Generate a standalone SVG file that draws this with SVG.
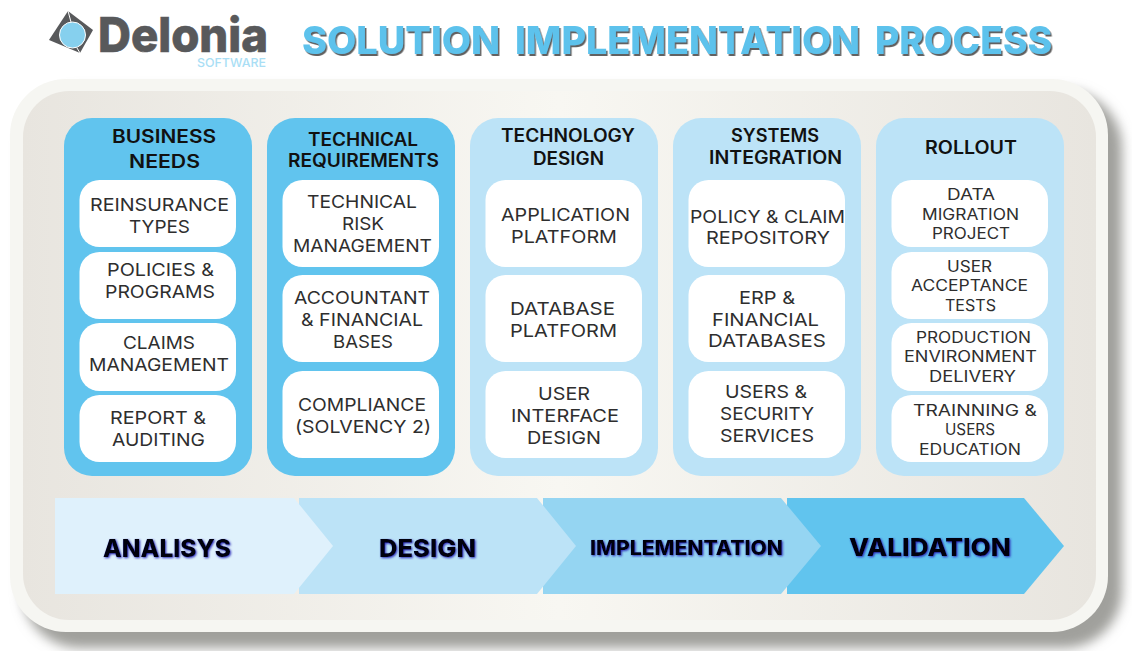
<svg xmlns="http://www.w3.org/2000/svg" width="1132" height="651" viewBox="0 0 1132 651">
<style>
text{font-family:"Inter","Liberation Sans",sans-serif;text-anchor:middle}
.col1{fill:#61c4ee}.col2{fill:#bce3f7}.card{fill:#fff}
.h{font-size:18px;font-weight:600;fill:#111}
.t{font-size:17.5px;font-weight:400;fill:#2e2e2e}
.s{font-size:15.5px;font-weight:400;fill:#2e2e2e}
.a{font-weight:800;fill:#03030f;filter:url(#glow)}
.ttl{font-size:38px;font-weight:800;fill:#5dc2ec;filter:url(#tsh)}
</style>
<defs>
<linearGradient id="panel" x1="0" y1="0" x2="1" y2="0">
<stop offset="0" stop-color="#e8e5df"/><stop offset=".5" stop-color="#f8f7f2"/><stop offset="1" stop-color="#e8e5df"/>
</linearGradient>
<filter id="blur" x="-5%" y="-5%" width="110%" height="110%"><feGaussianBlur stdDeviation="6"/></filter>
<filter id="glow" x="-10%" y="-30%" width="120%" height="170%">
<feOffset in="SourceAlpha" dx="1" dy="1.2"/><feGaussianBlur stdDeviation="1" result="b"/>
<feFlood flood-color="#2a2ab8"/><feComposite in2="b" operator="in"/>
<feMerge><feMergeNode/><feMergeNode in="SourceGraphic"/></feMerge>
</filter>
<filter id="tsh" x="-3%" y="-20%" width="106%" height="150%">
<feDropShadow dx="1.5" dy="2" stdDeviation=".7" flood-color="#444" flood-opacity=".85"/>
</filter>
</defs>
<rect width="1132" height="651" fill="#fff"/>

<g id="logo">
<polygon points="68,11 93,30 80,53 49,40" fill="#58595b"/>
<line x1="68" y1="11" x2="71" y2="22" stroke="#fff" stroke-width="1"/>
<line x1="77" y1="48" x2="80" y2="53" stroke="#fff" stroke-width="1"/>
<circle cx="72.500" cy="35" r="13" fill="#86d0ee" stroke="#fff" stroke-width="1"/>
<text x="183" y="52" font-size="48" font-weight="800" fill="#58595b" stroke="#58595b" stroke-width=".7" textLength="170" lengthAdjust="spacingAndGlyphs">Delonia</text>
<text x="231.500" y="67" font-size="12" font-weight="500" fill="#a9def5" textLength="69" lengthAdjust="spacingAndGlyphs">SOFTWARE</text>
</g>
<g id="title">
<text class="ttl" x="401" y="54" textLength="198" lengthAdjust="spacingAndGlyphs">SOLUTION</text>
<text class="ttl" x="687.500" y="54" textLength="345" lengthAdjust="spacingAndGlyphs">IMPLEMENTATION</text>
<text class="ttl" x="963.500" y="54" textLength="177" lengthAdjust="spacingAndGlyphs">PROCESS</text>
</g>

<g id="panel-box">
<rect x="22" y="90" width="1100" height="558" rx="58" fill="#a0a09c" filter="url(#blur)"/>
<rect x="10" y="79" width="1098" height="553" rx="56" fill="#f6f6f2"/>
<rect x="23" y="91" width="1073" height="529" rx="46" fill="url(#panel)"/>
</g>

<g id="column-business-needs">
<rect class="col1" x="64" y="118" width="188" height="358" rx="28"/>
<text class="h" x="164" y="143" textLength="104" lengthAdjust="spacingAndGlyphs">BUSINESS</text>
<text class="h" x="164.500" y="168" textLength="71" lengthAdjust="spacingAndGlyphs">NEEDS</text>
<g id="card-reinsurance"><rect class="card" x="79.500" y="180" width="156.500" height="67" rx="20"/>
<text class="t" x="159.500" y="211" textLength="139" lengthAdjust="spacingAndGlyphs">REINSURANCE</text>
<text class="t" x="159.500" y="233" textLength="61" lengthAdjust="spacingAndGlyphs">TYPES</text></g>
<g id="card-policies"><rect class="card" x="79.500" y="252" width="156.500" height="67" rx="20"/>
<text class="t" x="160.500" y="276" textLength="107" lengthAdjust="spacingAndGlyphs">POLICIES &amp;</text>
<text class="t" x="160" y="298" textLength="110" lengthAdjust="spacingAndGlyphs">PROGRAMS</text></g>
<g id="card-claims"><rect class="card" x="79.500" y="323" width="156.500" height="68" rx="20"/>
<text class="t" x="159" y="349" textLength="72" lengthAdjust="spacingAndGlyphs">CLAIMS</text>
<text class="t" x="159" y="371" textLength="140" lengthAdjust="spacingAndGlyphs">MANAGEMENT</text></g>
<g id="card-report"><rect class="card" x="79.500" y="395" width="156.500" height="67" rx="20"/>
<text class="t" x="158" y="424" textLength="96" lengthAdjust="spacingAndGlyphs">REPORT &amp;</text>
<text class="t" x="158.500" y="446" textLength="93" lengthAdjust="spacingAndGlyphs">AUDITING</text></g>
</g>

<g id="column-technical-requirements">
<rect class="col1" x="267" y="118" width="188" height="358" rx="28"/>
<text class="h" x="363" y="146" textLength="110" lengthAdjust="spacingAndGlyphs">TECHNICAL</text>
<text class="h" x="363.500" y="167" textLength="151" lengthAdjust="spacingAndGlyphs">REQUIREMENTS</text>
<g id="card-risk"><rect class="card" x="282.500" y="180" width="156.500" height="87" rx="20"/>
<text class="t" x="362" y="208" textLength="110" lengthAdjust="spacingAndGlyphs">TECHNICAL</text>
<text class="t" x="363" y="230" textLength="42" lengthAdjust="spacingAndGlyphs">RISK</text>
<text class="t" x="362.500" y="252" textLength="139" lengthAdjust="spacingAndGlyphs">MANAGEMENT</text></g>
<g id="card-accountant"><rect class="card" x="282.500" y="275" width="156.500" height="87" rx="20"/>
<text class="t" x="362" y="304" textLength="136" lengthAdjust="spacingAndGlyphs">ACCOUNTANT</text>
<text class="t" x="362" y="326" textLength="122" lengthAdjust="spacingAndGlyphs">&amp; FINANCIAL</text>
<text class="t" x="363" y="348" textLength="60" lengthAdjust="spacingAndGlyphs">BASES</text></g>
<g id="card-compliance"><rect class="card" x="282.500" y="371" width="156.500" height="87" rx="20"/>
<text class="t" x="362" y="411" textLength="128" lengthAdjust="spacingAndGlyphs">COMPLIANCE</text>
<text class="t" x="363" y="433" textLength="136" lengthAdjust="spacingAndGlyphs">(SOLVENCY 2)</text></g>
</g>

<g id="column-technology-design">
<rect class="col2" x="470" y="118" width="188" height="358" rx="28"/>
<text class="h" x="568" y="142" textLength="134" lengthAdjust="spacingAndGlyphs">TECHNOLOGY</text>
<text class="h" x="568.500" y="165" textLength="71" lengthAdjust="spacingAndGlyphs">DESIGN</text>
<g id="card-application"><rect class="card" x="485.500" y="180" width="156.500" height="87" rx="20"/>
<text class="t" x="565.500" y="221" textLength="129" lengthAdjust="spacingAndGlyphs">APPLICATION</text>
<text class="t" x="564" y="243" textLength="106" lengthAdjust="spacingAndGlyphs">PLATFORM</text></g>
<g id="card-database"><rect class="card" x="485.500" y="275" width="156.500" height="87" rx="20"/>
<text class="t" x="562.500" y="315" textLength="105" lengthAdjust="spacingAndGlyphs">DATABASE</text>
<text class="t" x="563.500" y="337" textLength="107" lengthAdjust="spacingAndGlyphs">PLATFORM</text></g>
<g id="card-ui"><rect class="card" x="485.500" y="371" width="156.500" height="87" rx="20"/>
<text class="t" x="564" y="400" textLength="52" lengthAdjust="spacingAndGlyphs">USER</text>
<text class="t" x="565" y="422" textLength="108" lengthAdjust="spacingAndGlyphs">INTERFACE</text>
<text class="t" x="564" y="444" textLength="74" lengthAdjust="spacingAndGlyphs">DESIGN</text></g>
</g>

<g id="column-systems-integration">
<rect class="col2" x="673" y="118" width="188" height="358" rx="28"/>
<text class="h" x="775" y="142" textLength="88" lengthAdjust="spacingAndGlyphs">SYSTEMS</text>
<text class="h" x="775.500" y="164" textLength="133" lengthAdjust="spacingAndGlyphs">INTEGRATION</text>
<g id="card-repository"><rect class="card" x="688.500" y="180" width="156.500" height="87" rx="20"/>
<text class="t" x="767.500" y="223" textLength="155" lengthAdjust="spacingAndGlyphs">POLICY &amp; CLAIM</text>
<text class="t" x="768" y="244" textLength="124" lengthAdjust="spacingAndGlyphs">REPOSITORY</text></g>
<g id="card-erp"><rect class="card" x="688.500" y="275" width="156.500" height="87" rx="20"/>
<text class="t" x="767" y="304" textLength="56" lengthAdjust="spacingAndGlyphs">ERP &amp;</text>
<text class="t" x="765.500" y="326" textLength="107" lengthAdjust="spacingAndGlyphs">FINANCIAL</text>
<text class="t" x="767" y="347" textLength="118" lengthAdjust="spacingAndGlyphs">DATABASES</text></g>
<g id="card-users"><rect class="card" x="688.500" y="371" width="156.500" height="87" rx="20"/>
<text class="t" x="766" y="398" textLength="82" lengthAdjust="spacingAndGlyphs">USERS &amp;</text>
<text class="t" x="767" y="420" textLength="94" lengthAdjust="spacingAndGlyphs">SECURITY</text>
<text class="t" x="767" y="442" textLength="94" lengthAdjust="spacingAndGlyphs">SERVICES</text></g>
</g>

<g id="column-rollout">
<rect class="col2" x="876" y="118" width="188" height="358" rx="28"/>
<text class="h" x="971" y="154" textLength="92" lengthAdjust="spacingAndGlyphs">ROLLOUT</text>
<g id="card-migration"><rect class="card" x="891.500" y="180" width="156.500" height="67" rx="20"/>
<text class="s" x="971" y="200" textLength="48" lengthAdjust="spacingAndGlyphs">DATA</text>
<text class="s" x="970.500" y="219.500" textLength="97" lengthAdjust="spacingAndGlyphs">MIGRATION</text>
<text class="s" x="971" y="239" textLength="78" lengthAdjust="spacingAndGlyphs">PROJECT</text></g>
<g id="card-acceptance"><rect class="card" x="891.500" y="252" width="156.500" height="67" rx="20"/>
<text class="s" x="969.500" y="272" textLength="45" lengthAdjust="spacingAndGlyphs">USER</text>
<text class="s" x="969.500" y="291" textLength="117" lengthAdjust="spacingAndGlyphs">ACCEPTANCE</text>
<text class="s" x="970.500" y="311" textLength="51" lengthAdjust="spacingAndGlyphs">TESTS</text></g>
<g id="card-production"><rect class="card" x="891.500" y="323" width="156.500" height="68" rx="20"/>
<text class="s" x="973.500" y="343" textLength="115" lengthAdjust="spacingAndGlyphs">PRODUCTION</text>
<text class="s" x="970.500" y="362" textLength="133" lengthAdjust="spacingAndGlyphs">ENVIRONMENT</text>
<text class="s" x="972.500" y="382" textLength="87" lengthAdjust="spacingAndGlyphs">DELIVERY</text></g>
<g id="card-training"><rect class="card" x="891.500" y="395" width="156.500" height="67" rx="20"/>
<text class="s" x="975" y="416" textLength="124" lengthAdjust="spacingAndGlyphs">TRAINNING &amp;</text>
<text class="s" x="970" y="435" textLength="50" lengthAdjust="spacingAndGlyphs">USERS</text>
<text class="s" x="970" y="455" textLength="102" lengthAdjust="spacingAndGlyphs">EDUCATION</text></g>
</g>

<g id="phases">
<g id="phase-validation"><polygon points="787,498 1024,498 1064,546 1024,594 787,594" fill="#61c4ee"/>
<text class="a" x="930" y="556" font-size="25" textLength="162" lengthAdjust="spacingAndGlyphs">VALIDATION</text></g>
<g id="phase-implementation"><polygon points="543,498 781,498 821,546 781,594 543,594" fill="#95d5f2"/>
<text class="a" x="686.500" y="555" font-size="20" textLength="193" lengthAdjust="spacingAndGlyphs">IMPLEMENTATION</text></g>
<g id="phase-design"><polygon points="299,498 537,498 576,546 537,594 299,594" fill="#bce3f7"/>
<text class="a" x="427.500" y="557" font-size="25" textLength="97" lengthAdjust="spacingAndGlyphs">DESIGN</text></g>
<g id="phase-analysis"><polygon points="55,498 294,498 333,546 294,594 55,594" fill="#dff1fc"/>
<text class="a" x="167" y="557" font-size="25" textLength="128" lengthAdjust="spacingAndGlyphs">ANALISYS</text></g>
</g>
</svg>
